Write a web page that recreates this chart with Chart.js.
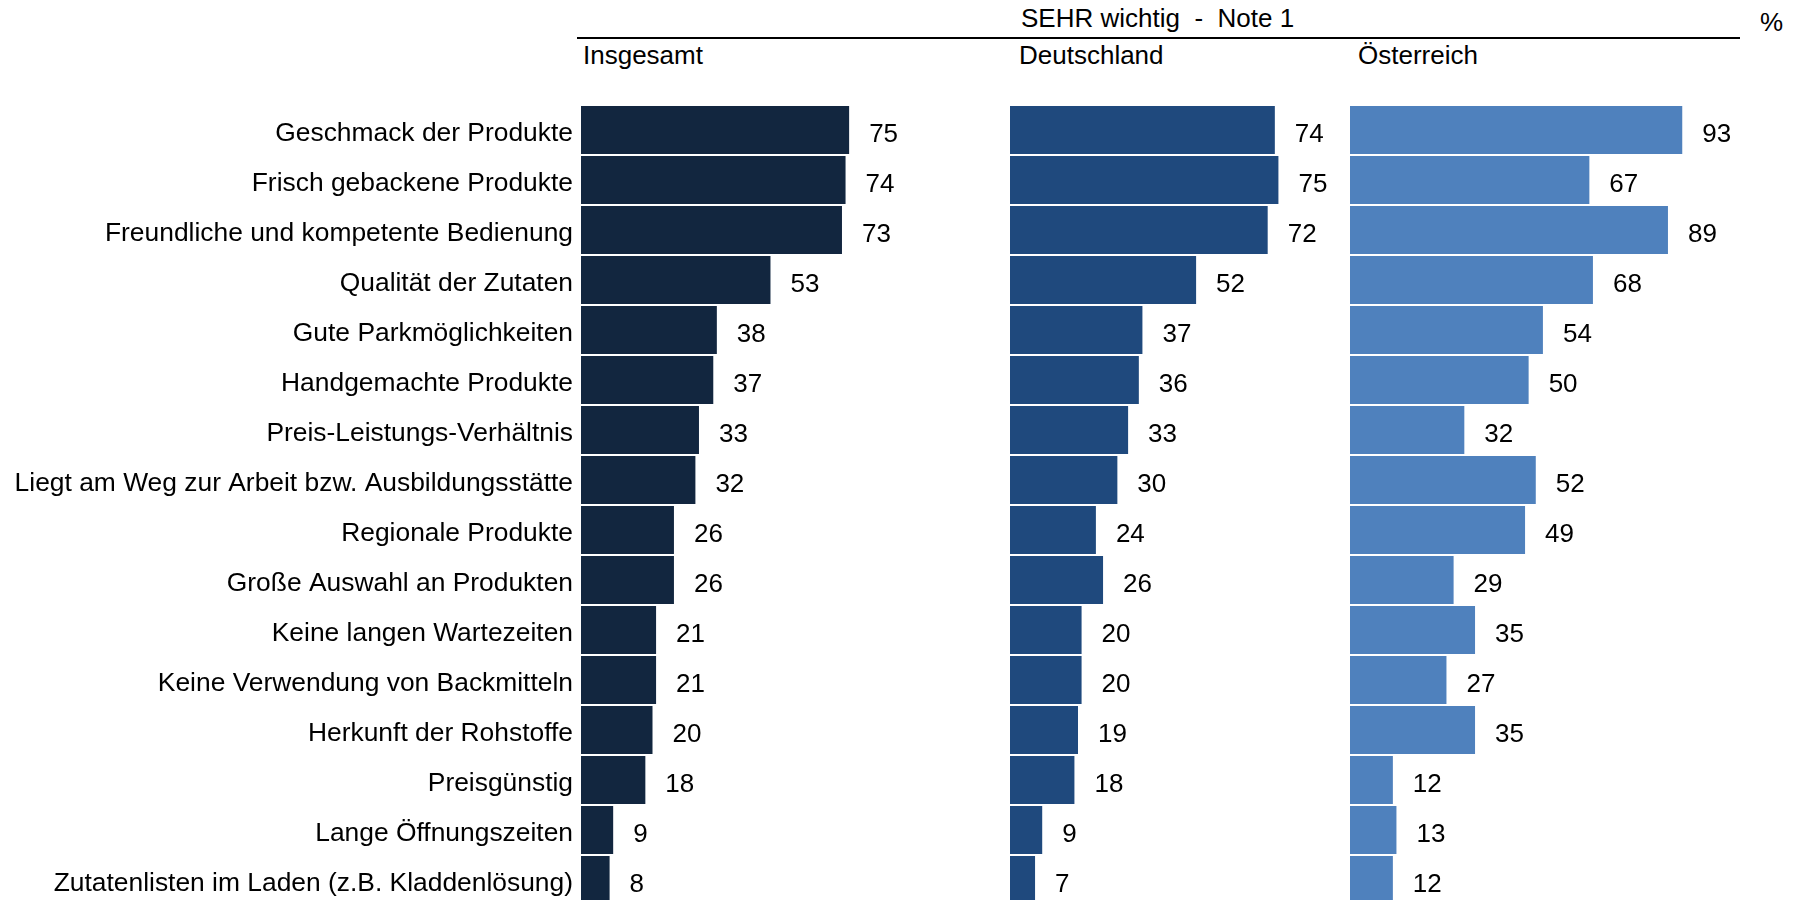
<!DOCTYPE html>
<html lang="de">
<head>
<meta charset="UTF-8">
<title>SEHR wichtig - Note 1</title>
<script src="https://cdn.jsdelivr.net/npm/chart.js"></script>
<style>
    html, body { margin: 0; padding: 0; background: #fff; overflow: hidden; }
    body { width: 1793px; height: 900px; position: relative; font-family: "Liberation Sans", Arial, sans-serif; }
    canvas { position: absolute; top: 0; }
    .txt { position: absolute; font-size: 26px; line-height: 26px; color: #000; white-space: pre; }
    .line { position: absolute; left: 577px; top: 37px; width: 1163px; height: 2px; background: #000; }
</style>
</head>
<body>

<div class="txt" style="left:1021px; top:5px;">SEHR wichtig  -  Note 1</div>
<div class="txt" style="left:1760px; top:9px;">%</div>
<div class="line"></div>
<div class="txt" style="left:583px; top:42px;">Insgesamt</div>
<div class="txt" style="left:1019px; top:42px;">Deutschland</div>
<div class="txt" style="left:1358px; top:42px;">Österreich</div>

<canvas id="chartGesamt" width="1010" height="950" style="left:0px;"></canvas>
<canvas id="chartDE" width="340" height="950" style="left:1010px;"></canvas>
<canvas id="chartAT" width="443" height="950" style="left:1350px;"></canvas>

<script>
const categories = [
    'Geschmack der Produkte',
    'Frisch gebackene Produkte',
    'Freundliche und kompetente Bedienung',
    'Qualität der Zutaten',
    'Gute Parkmöglichkeiten',
    'Handgemachte Produkte',
    'Preis-Leistungs-Verhältnis',
    'Liegt am Weg zur Arbeit bzw. Ausbildungsstätte',
    'Regionale Produkte',
    'Große Auswahl an Produkten',
    'Keine langen Wartezeiten',
    'Keine Verwendung von Backmitteln',
    'Herkunft der Rohstoffe',
    'Preisgünstig',
    'Lange Öffnungszeiten',
    'Zutatenlisten im Laden (z.B. Kladdenlösung)'
];

const insgesamt   = [75, 74, 73, 53, 38, 37, 33, 32, 26, 26, 21, 21, 20, 18, 9, 8];
const deutschland = [74, 75, 72, 52, 37, 36, 33, 30, 24, 26, 20, 20, 19, 18, 9, 7];
const oesterreich = [93, 67, 89, 68, 54, 50, 32, 52, 49, 29, 35, 27, 35, 12, 13, 12];

const FONT = '"Liberation Sans", Arial, sans-serif';

// zahlen rechts neben den balken
const valueLabels = {
    id: 'valueLabels',
    afterDatasetsDraw(chart) {
        const ctx = chart.ctx;
        ctx.save();
        ctx.font = '26px ' + FONT;
        ctx.fillStyle = '#000';
        ctx.textAlign = 'left';
        ctx.textBaseline = 'middle';
        chart.getDatasetMeta(0).data.forEach((bar, i) => {
            ctx.fillText(chart.data.datasets[0].data[i], bar.x + 20, bar.y + 5);
        });
        ctx.restore();
    }
};

function makeChart(id, values, color, xMax, showLabels) {
    const yAxis = {
        display: showLabels,
        grid: { display: false },
        border: { display: false },
        ticks: {
            color: '#000',
            padding: 0,
            labelOffset: 4,
            font: { family: FONT, size: 26.4 }
        }
    };
    if (showLabels) {
        yAxis.afterFit = (scale) => { scale.width = 581; };
    }

    return new Chart(document.getElementById(id), {
        type: 'bar',
        data: {
            labels: categories,
            datasets: [{
                data: values,
                backgroundColor: color,
                borderWidth: 0,
                barPercentage: 0.96,
                categoryPercentage: 1
            }]
        },
        plugins: [valueLabels],
        options: {
            indexAxis: 'y',
            responsive: false,
            animation: false,
            devicePixelRatio: 1,
            // zeichenflaeche 105..905 -> 16 zeilen a 50px
            layout: { padding: { top: 105, bottom: 45, left: 0, right: 0 } },
            plugins: { legend: { display: false }, tooltip: { enabled: false } },
            scales: {
                x: { display: false, min: 0, max: xMax },
                y: yAxis
            }
        }
    });
}

makeChart('chartGesamt', insgesamt, '#12263f', 120, true);
makeChart('chartDE', deutschland, '#1f497d', 95, false);
makeChart('chartAT', oesterreich, '#4f81bd', 124, false);
</script>
</body>
</html>
